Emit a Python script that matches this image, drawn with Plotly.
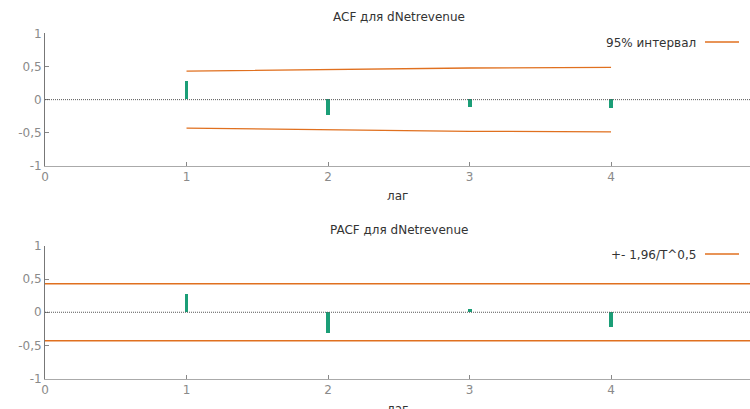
import plotly.graph_objects as go
from plotly.subplots import make_subplots

lags = [1, 2, 3, 4]
acf_vals = [0.27, -0.23, -0.12, -0.13]
acf_band = [0.43, 0.455, 0.477, 0.485]
pacf_vals = [0.27, -0.32, 0.05, -0.22]
pacf_band = 0.43

x_ticks = [0, 1, 2, 3, 4]
y_ticks = [-1, -0.5, 0, 0.5, 1]
y_ticktext = ["-1", "-0,5", "0", "0,5", "1"]

titles = ["ACF для dNetrevenue", "PACF для dNetrevenue"]
legend_labels = ["95% интервал", "+- 1,96/T^0,5"]
x_title = "лаг"

BAR = "#1b9e77"
BAND = "#e0701f"
FONT = "DejaVu Sans"

W, H = 750, 409
L = 45  # plot left edge

def px(x):
    return (x - L) / (W - L)
def py(y):
    return 1 - y / H

fig = make_subplots(rows=2, cols=1)

fig.add_trace(go.Bar(x=lags, y=acf_vals, width=0.028, marker_color=BAR,
                     marker_line_width=0, showlegend=False), row=1, col=1)
fig.add_trace(go.Scatter(x=lags, y=acf_band, mode="lines",
                         line=dict(color=BAND, width=1.3), showlegend=False), row=1, col=1)
fig.add_trace(go.Scatter(x=lags, y=[-v for v in acf_band], mode="lines",
                         line=dict(color=BAND, width=1.3), showlegend=False), row=1, col=1)

fig.add_trace(go.Bar(x=lags, y=pacf_vals, width=0.028, marker_color=BAR,
                     marker_line_width=0, showlegend=False), row=2, col=1)

# PACF constant bands across the whole plot
for v in (pacf_band, -pacf_band):
    fig.add_shape(type="line", xref="x2 domain", yref="y2", x0=0, x1=1, y0=v, y1=v,
                  line=dict(color=BAND, width=1.3))

# dotted zero lines
for xr, yr in (("x domain", "y"), ("x2 domain", "y2")):
    fig.add_shape(type="line", xref=xr, yref=yr, x0=0, x1=1, y0=0, y1=0,
                  line=dict(color="#555555", width=1, dash="1px,1px"))

axis_common = dict(showgrid=False, zeroline=False, showline=True, automargin=False,
                   ticks="inside", ticklen=4, tickcolor="#888888",
                   tickfont=dict(family=FONT, size=12, color="#8a8a8a"))

for r, (y0, y1) in zip((1, 2), ((166, 33.3), (378.5, 246))):
    fig.update_xaxes(range=[0, 4.982], tickvals=x_ticks, linecolor="#aaaaaa",
                     domain=[0, 1], row=r, col=1, **axis_common)
    fig.update_yaxes(range=[-1, 1], tickvals=y_ticks, ticktext=y_ticktext,
                     linecolor="#777777", domain=[py(y0), py(y1)], row=r, col=1,
                     **axis_common)

# x-axis titles (bottom one partly below the page edge, as in the original)
for y in (196, 409):
    fig.add_annotation(text=x_title, xref="paper", yref="paper", x=px(398), y=py(y),
                       showarrow=False, xanchor="center", yanchor="middle",
                       font=dict(family=FONT, size=12, color="#333333"))

# titles
for t, y in zip(titles, (17, 230)):
    fig.add_annotation(text=t, xref="paper", yref="paper", x=px(399), y=py(y),
                       showarrow=False, xanchor="center", yanchor="middle",
                       font=dict(family=FONT, size=12, color="#333333"))

# legend keys
for lab, y in zip(legend_labels, (43, 255)):
    fig.add_annotation(text=lab, xref="paper", yref="paper", x=px(698), y=py(y),
                       showarrow=False, xanchor="right", yanchor="middle",
                       font=dict(family=FONT, size=12, color="#333333"))
    fig.add_shape(type="line", xref="paper", yref="paper", x0=px(705), x1=px(739),
                  y0=py(y - 1), y1=py(y - 1), line=dict(color=BAND, width=1.3))

fig.update_layout(width=W, height=H, margin=dict(l=L, r=0, t=0, b=0, autoexpand=False),
                  plot_bgcolor="white", paper_bgcolor="white", bargap=0,
                  font=dict(family=FONT))

fig.write_html("out.html", config={"displayModeBar": False},
               post_script="document.body.style.margin='0';"
                           "document.body.style.overflow='hidden';")
